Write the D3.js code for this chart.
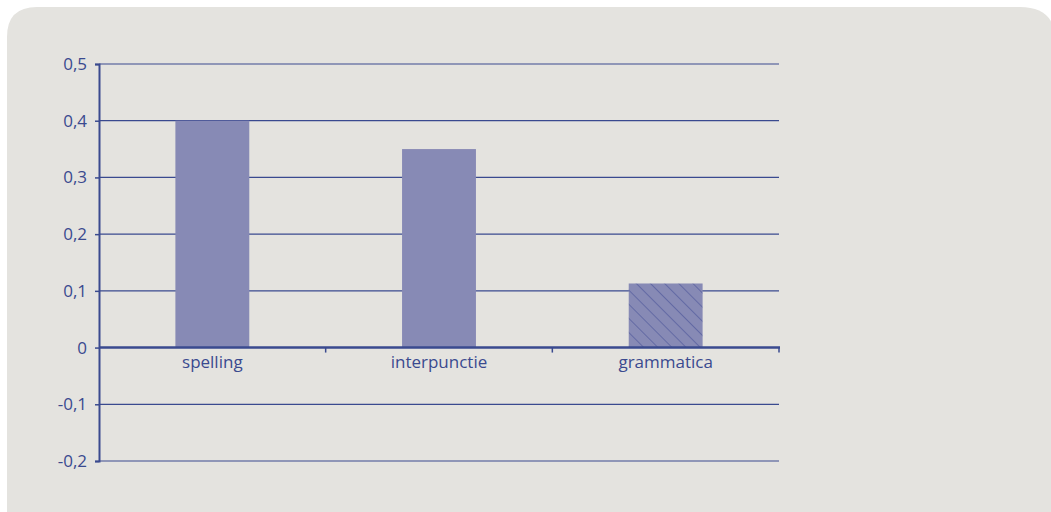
<!DOCTYPE html>
<html>
<head>
<meta charset="utf-8">
<script src="https://cdn.jsdelivr.net/npm/d3@7"></script>
<style>
  body { margin: 0; background: #fff; }
  text { font-family: "Open Sans", sans-serif; }
</style>
</head>
<body>
<div id="chart"></div>
<script>
const categories = ["spelling", "interpunctie", "grammatica"];
const values = [0.4, 0.35, 0.113];
const hatched = [false, false, true];
const yTicks = [-0.2, -0.1, 0, 0.1, 0.2, 0.3, 0.4, 0.5];

const width = 1051;
const height = 512;
const plot = { left: 99, right: 779, top: 64, bottom: 461 };
const ink = "#3a4a8f";

const svg = d3.select("#chart")
    .append("svg")
    .attr("width", width)
    .attr("height", height);

// hatch for the last bar
const defs = svg.append("defs");
const pat = defs.append("pattern")
    .attr("id", "hatch")
    .attr("patternUnits", "userSpaceOnUse")
    .attr("width", 10)
    .attr("height", 10)
    .attr("patternTransform", "rotate(45)");
pat.append("rect").attr("width", 10).attr("height", 10).attr("fill", "#878ab5");
pat.append("line")
    .attr("x1", 0).attr("y1", 0).attr("x2", 10).attr("y2", 0)
    .attr("stroke", "#5a62a0").attr("stroke-width", 1.6);

// panel with rounded top corners
const r = 30, px = 7, py = 7, pr = 1056, pb = 520;
svg.append("path")
    .attr("d", `M${px},${pb} L${px},${py + r} Q${px},${py} ${px + r},${py} L${pr - r - 6},${py} Q${pr},${py} ${pr},${py + r + 6} L${pr},${pb} Z`)
    .attr("fill", "#e4e3df");

const y = d3.scaleLinear()
    .domain([-0.2, 0.5])
    .range([plot.bottom, plot.top]);

const x = d3.scaleBand()
    .domain(categories)
    .range([plot.left, plot.right])
    .paddingInner(0.674)
    .paddingOuter(0.337);

// gridlines
svg.append("g")
    .selectAll("line")
    .data(yTicks.filter(d => d !== 0))
    .enter()
    .append("line")
    .attr("x1", plot.left)
    .attr("x2", plot.right)
    .attr("y1", d => y(d))
    .attr("y2", d => y(d))
    .attr("stroke", ink)
    .attr("stroke-width", 1.2);

// bars
svg.selectAll(".bar")
    .data(values)
    .enter()
    .append("rect")
    .attr("class", "bar")
    .attr("x", (_, i) => x(categories[i]))
    .attr("width", x.bandwidth())
    .attr("y", d => y(d))
    .attr("height", d => y(0) - y(d))
    .attr("fill", (_, i) => hatched[i] ? "url(#hatch)" : "#878ab5");

// y axis
const yAxis = svg.append("g")
    .attr("transform", `translate(${plot.left},0)`)
    .call(d3.axisLeft(y).tickValues(yTicks).tickSize(4).tickPadding(8)
        .tickFormat(d => d === 0 ? "0" : d3.format(".1f")(d).replace(".", ",").replace("−", "-")));
yAxis.select(".domain").attr("stroke", ink).attr("stroke-width", 2);
yAxis.selectAll(".tick line").attr("stroke", ink).attr("stroke-width", 1.5);
yAxis.selectAll("text").attr("fill", ink).attr("font-size", 17);

// x axis at zero, ticks between categories
const bandEdges = d3.scaleLinear().domain([0, categories.length]).range([plot.left, plot.right]);
const xAxis = svg.append("g")
    .attr("transform", `translate(0,${y(0)})`);
xAxis.append("line")
    .attr("x1", plot.left).attr("x2", plot.right + 1)
    .attr("stroke", ink).attr("stroke-width", 2.4);
xAxis.selectAll(".xt")
    .data(d3.range(1, categories.length + 1))
    .enter()
    .append("line")
    .attr("class", "xt")
    .attr("x1", d => bandEdges(d)).attr("x2", d => bandEdges(d))
    .attr("y1", 0).attr("y2", 5)
    .attr("stroke", ink).attr("stroke-width", 1.5);
xAxis.selectAll(".xl")
    .data(categories)
    .enter()
    .append("text")
    .attr("class", "xl")
    .attr("x", d => x(d) + x.bandwidth() / 2)
    .attr("y", 20)
    .attr("text-anchor", "middle")
    .attr("fill", ink)
    .attr("font-size", 17)
    .text(d => d);
</script>
</body>
</html>
